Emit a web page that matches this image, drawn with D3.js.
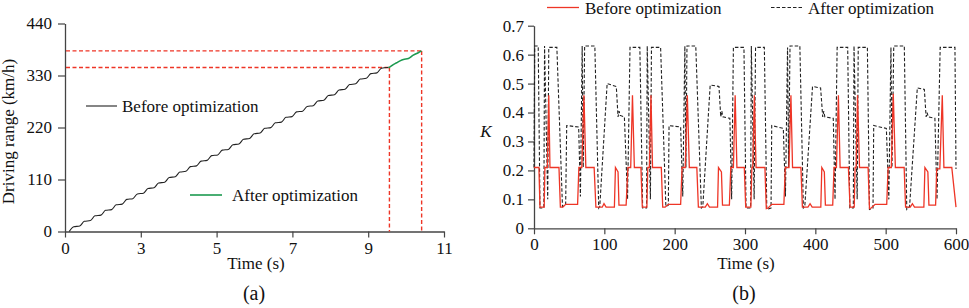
<!DOCTYPE html>
<html lang="en">
  <head>
    <meta charset="UTF-8" />
    <title>Driving range and K</title>
    <style>
      body { margin: 0; background: #fff; }
      text { font-family: "Liberation Serif", "Times New Roman", serif; fill: #111; }
    </style>
  </head>
  <body>
    <div class="chart"></div>
    <script src="https://d3js.org/d3.v7.min.js"></script>
    <script>
      // (a) driving range
      const rangeTickValues = [1, 3, 5, 7, 9, 11];
      const rangeTickLabels = ["0", "3", "5", "7", "9", "11"];
      const rangeYTicks = [0, 110, 220, 330, 440];

      const rangeTime = [
        1.11, 1.23, 1.39, 1.51, 1.67, 1.79, 1.95, 2.07, 2.23, 2.35, 2.51, 2.63, 2.79, 2.91,
        3.07, 3.19, 3.35, 3.47, 3.63, 3.75, 3.91, 4.03, 4.19, 4.31, 4.47, 4.59, 4.75, 4.87,
        5.03, 5.15, 5.31, 5.43, 5.59, 5.71, 5.87, 5.99, 6.15, 6.27, 6.43, 6.55, 6.71, 6.83,
        6.99, 7.11, 7.27, 7.39, 7.55, 7.67, 7.83, 7.95, 8.11, 8.23, 8.39, 8.51, 8.67, 8.79,
        8.95, 9.07, 9.23, 9.35, 9.53,
      ];
      const rangeBefore = [
        0, 10.1, 11.6, 21.6, 23.1, 33.2, 34.7, 44.8, 46.3, 56.4, 57.9, 67.9, 69.4, 79.5,
        81, 91.1, 92.6, 102.6, 104.1, 114.2, 115.7, 125.8, 127.3, 137.3, 138.8, 148.9, 150.4, 160.5,
        162, 172.1, 173.6, 183.6, 185.1, 195.2, 196.7, 206.8, 208.3, 218.3, 219.8, 229.9, 231.4, 241.5,
        243, 253, 254.5, 264.6, 266.1, 276.2, 277.7, 287.8, 289.3, 299.3, 300.8, 310.9, 312.4, 322.5,
        324, 334, 335.5, 345.5, 347,
      ];
      const afterTime = [9.53, 9.56, 9.66, 9.75, 9.84, 9.93, 10.06, 10.19, 10.32, 10.41];
      const afterRange = [347, 347.5, 353, 357, 361, 364, 366, 373, 378, 382];
      const refTime = [9.56, 10.41];
      const refRange = [347, 382];

      // (b) K
      const kXTicks = [0, 100, 200, 300, 400, 500, 600];
      const kYTicks = [0, 0.1, 0.2, 0.3, 0.4, 0.5, 0.6, 0.7];
      const kYLabels = ["0", "0.1", "0.2", "0.3", "0.4", "0.5", "0.6", "0.7"];

      const kTimeBefore = [
        0, 7, 8.5, 14.5, 15.5, 19, 21, 22.7, 35.5, 37.5, 41, 45, 62, 63.8, 68, 71, 73.7, 85.5,
        88, 97, 99.5, 102.5, 114.3, 115.8, 119.5, 120.8, 131, 133.5, 137.5, 140, 142.7,
        152, 154, 160.5, 161.8, 164, 166.3, 168.5, 181, 183, 186.5, 191, 208.5, 210.5, 215, 218,
        220.8, 231.5, 233.7, 243.5, 246.5, 249.5, 261, 262.3, 266.5, 268, 277.8, 279.8, 283.5, 286, 288.5,
        299, 301, 308.3, 309.8, 311, 313.3, 315.7, 328.3, 330.3, 333, 338, 355.3, 357.3, 362.5, 365.3,
        367.6, 379.5, 381.6, 389.5, 392.5, 395.5, 407.8, 409.2, 412.8, 414.3, 424.7, 426.6, 430, 432.8, 435.2,
        447, 449.4, 455.3, 456.5, 458, 460, 462.8, 475, 477, 479.5, 485, 501.5, 503.5, 508, 510.8,
        513.8, 526.3, 528.3, 535, 538, 541, 554.3, 555.8, 560, 561.5, 571, 572.6, 577, 580.5, 582.8, 594, 600,
      ];
      const kBefore = [
        0.21, 0.21, 0.073, 0.073, 0.21, 0.21, 0.46, 0.21, 0.21, 0.073, 0.073, 0.083, 0.083, 0.21, 0.21, 0.46, 0.21, 0.21,
        0.073, 0.073, 0.085, 0.073, 0.073, 0.21, 0.195, 0.08, 0.08, 0.21, 0.21, 0.46, 0.21,
        0.21, 0.073, 0.073, 0.21, 0.21, 0.46, 0.21, 0.21, 0.073, 0.073, 0.083, 0.083, 0.21, 0.21, 0.46,
        0.21, 0.21, 0.073, 0.073, 0.085, 0.073, 0.073, 0.21, 0.195, 0.08, 0.08, 0.21, 0.21, 0.46, 0.21,
        0.21, 0.073, 0.073, 0.21, 0.21, 0.46, 0.21, 0.21, 0.068, 0.07, 0.083, 0.083, 0.21, 0.21, 0.46,
        0.21, 0.21, 0.073, 0.073, 0.085, 0.073, 0.073, 0.21, 0.195, 0.08, 0.08, 0.21, 0.21, 0.46, 0.21,
        0.21, 0.073, 0.073, 0.21, 0.21, 0.46, 0.21, 0.21, 0.068, 0.07, 0.083, 0.083, 0.21, 0.21, 0.465,
        0.21, 0.21, 0.073, 0.073, 0.085, 0.073, 0.073, 0.21, 0.195, 0.08, 0.08, 0.205, 0.205, 0.46, 0.21, 0.21, 0.073,
      ];

      const kTimeAfter = [
        0, 1, 6, 8.5, 14, 15, 19.5, 21, 32.5, 40.5, 45, 46.5, 63.5, 66, 68.5, 70, 72, 86.5,
        92, 93.5, 104, 117, 119.5, 121, 122.5, 128.5, 133, 136.5,
        150.5, 154.5, 160, 161, 165.5, 167, 180, 187.5, 191, 192, 208.5, 211.5, 214.5, 216, 217.5, 230,
        238, 240, 250.5, 263, 265.5, 267, 268.5, 278.5, 281, 283.5,
        298.5, 301.5, 308, 309, 313, 315, 327.5, 331, 337, 338, 354.5, 357.5, 360.5, 362, 364, 378,
        383, 385, 396, 407.5, 410.5, 412, 413.5, 425.5, 428, 431,
        446, 449, 454, 455, 459.5, 461, 474, 477, 482, 483, 501, 504.5, 507.5, 509, 511.5, 526.5,
        530, 534, 545, 555, 557.5, 559, 560.5, 570, 573, 577.5, 598.5, 600,
      ];
      const kAfter = [
        0.21, 0.63, 0.63, 0.07, 0.07, 0.63, 0.1, 0.625, 0.625, 0.075, 0.08, 0.355, 0.35, 0.11, 0.63, 0.21, 0.63, 0.63,
        0.07, 0.075, 0.5, 0.49, 0.385, 0.405, 0.39, 0.385, 0.1, 0.625,
        0.625, 0.07, 0.07, 0.63, 0.1, 0.625, 0.625, 0.075, 0.08, 0.355, 0.35, 0.11, 0.63, 0.21, 0.63, 0.63,
        0.07, 0.075, 0.495, 0.49, 0.385, 0.405, 0.385, 0.38, 0.1, 0.625,
        0.625, 0.07, 0.07, 0.63, 0.1, 0.625, 0.625, 0.065, 0.07, 0.355, 0.345, 0.11, 0.625, 0.21, 0.63, 0.63,
        0.07, 0.075, 0.49, 0.485, 0.385, 0.405, 0.385, 0.38, 0.1, 0.625,
        0.625, 0.07, 0.07, 0.63, 0.1, 0.625, 0.625, 0.065, 0.07, 0.355, 0.345, 0.1, 0.625, 0.21, 0.63, 0.63,
        0.065, 0.075, 0.485, 0.48, 0.385, 0.4, 0.385, 0.38, 0.1, 0.625, 0.625, 0.205,
      ];

      const red = "#ee3526";
      const green = "#1d9a50";
      const axisColor = "#444";

      const svg = d3
        .select(".chart")
        .append("svg")
        .attr("width", 969)
        .attr("height", 308);

      const styleAxis = (g, fontSize) => {
        g.select(".domain").attr("stroke", axisColor).attr("stroke-width", 1.3);
        g.selectAll(".tick line").attr("stroke", axisColor).attr("stroke-width", 1.2);
        g.selectAll(".tick text")
          .attr("font-family", "Liberation Serif, Times New Roman, serif")
          .attr("font-size", fontSize)
          .attr("fill", "#111");
      };

      const drawRange = () => {
        const xScale = d3.scaleLinear().domain([1, 11]).range([65, 444]);
        const yScale = d3.scaleLinear().domain([0, 440]).range([231.5, 23.5]);

        const xAxis = svg
          .append("g")
          .attr("transform", `translate(0,${yScale(0)})`)
          .call(
            d3.axisBottom(xScale)
              .tickValues(rangeTickValues)
              .tickFormat((d, i) => rangeTickLabels[i])
              .tickSize(6)
              .tickPadding(4)
              .tickSizeOuter(0)
          );
        styleAxis(xAxis, 17);

        const yAxis = svg
          .append("g")
          .attr("transform", `translate(${xScale(1)},0)`)
          .call(d3.axisLeft(yScale).tickValues(rangeYTicks).tickSize(7).tickPadding(6).tickSizeOuter(0));
        styleAxis(yAxis, 17);

        // 紅色虛線參考線
        refTime.forEach((t, i) => {
          const x = xScale(t);
          const y = yScale(refRange[i]);
          svg.append("line")
            .attr("x1", xScale(1) + 1).attr("x2", x)
            .attr("y1", y).attr("y2", y)
            .attr("stroke", red).attr("stroke-width", 1.4).attr("stroke-dasharray", "4,2.5");
          svg.append("line")
            .attr("x1", x).attr("x2", x)
            .attr("y1", y).attr("y2", yScale(0))
            .attr("stroke", red).attr("stroke-width", 1.4).attr("stroke-dasharray", "4,2.5");
        });

        const line = d3.line()
          .x((d) => xScale(d[0]))
          .y((d) => yScale(d[1]))
          .curve(d3.curveMonotoneX);

        svg.append("path")
          .attr("d", line(d3.zip(rangeTime, rangeBefore)))
          .attr("fill", "none").attr("stroke", "#222").attr("stroke-width", 1.1);

        svg.append("path")
          .attr("d", line(d3.zip(afterTime, afterRange)))
          .attr("fill", "none").attr("stroke", green).attr("stroke-width", 1.6);

        // 圖例
        svg.append("line").attr("x1", 86).attr("x2", 117).attr("y1", 106).attr("y2", 106)
          .attr("stroke", "#222").attr("stroke-width", 1.1);
        svg.append("text").attr("x", 122).attr("y", 111.5).attr("font-size", 17).text("Before optimization");
        svg.append("line").attr("x1", 190).attr("x2", 222).attr("y1", 195).attr("y2", 195)
          .attr("stroke", green).attr("stroke-width", 1.6);
        svg.append("text").attr("x", 232).attr("y", 201).attr("font-size", 17).text("After optimization");

        svg.append("text")
          .attr("transform", "translate(14,131.5) rotate(-90)")
          .attr("text-anchor", "middle").attr("font-size", 17)
          .text("Driving range (km/h)");
        svg.append("text").attr("x", 256).attr("y", 269).attr("text-anchor", "middle")
          .attr("font-size", 17).text("Time (s)");
        svg.append("text").attr("x", 254).attr("y", 300).attr("text-anchor", "middle")
          .attr("font-size", 20).text("(a)");
      };

      const drawK = () => {
        const xScale = d3.scaleLinear().domain([0, 600]).range([534, 956]);
        const yScale = d3.scaleLinear().domain([0, 0.7]).range([228.3, 25.7]);

        const xAxis = svg
          .append("g")
          .attr("transform", `translate(0,${yScale(0)})`)
          .call(d3.axisBottom(xScale).tickValues(kXTicks).tickSize(6).tickPadding(4).tickSizeOuter(0));
        styleAxis(xAxis, 17);

        const yAxis = svg
          .append("g")
          .attr("transform", `translate(${xScale(0)},0)`)
          .call(
            d3.axisLeft(yScale)
              .tickValues(kYTicks)
              .tickFormat((d, i) => kYLabels[i])
              .tickSize(6)
              .tickPadding(4)
              .tickSizeOuter(0)
          );
        styleAxis(yAxis, 17);

        const line = d3.line()
          .x((d) => xScale(d[0]))
          .y((d) => yScale(d[1]));

        svg.append("path")
          .attr("d", line(d3.zip(kTimeAfter, kAfter)))
          .attr("fill", "none").attr("stroke", "#222").attr("stroke-width", 1.1)
          .attr("stroke-dasharray", "3.5,2");

        svg.append("path")
          .attr("d", line(d3.zip(kTimeBefore, kBefore)))
          .attr("fill", "none").attr("stroke", red).attr("stroke-width", 1.3);

        // 圖例
        svg.append("line").attr("x1", 547).attr("x2", 579).attr("y1", 7.5).attr("y2", 7.5)
          .attr("stroke", red).attr("stroke-width", 1.3);
        svg.append("text").attr("x", 585).attr("y", 13.5).attr("font-size", 17).text("Before optimization");
        svg.append("line").attr("x1", 771).attr("x2", 803).attr("y1", 7.5).attr("y2", 7.5)
          .attr("stroke", "#222").attr("stroke-width", 1.1).attr("stroke-dasharray", "3.5,2");
        svg.append("text").attr("x", 808).attr("y", 13.5).attr("font-size", 17).text("After optimization");

        svg.append("text").attr("x", 486).attr("y", 137).attr("text-anchor", "middle")
          .attr("font-size", 17).attr("font-style", "italic").text("K");
        svg.append("text").attr("x", 746).attr("y", 268.5).attr("text-anchor", "middle")
          .attr("font-size", 17).text("Time (s)");
        svg.append("text").attr("x", 744).attr("y", 300).attr("text-anchor", "middle")
          .attr("font-size", 20).text("(b)");
      };

      drawRange();
      drawK();
    </script>
  </body>
</html>
